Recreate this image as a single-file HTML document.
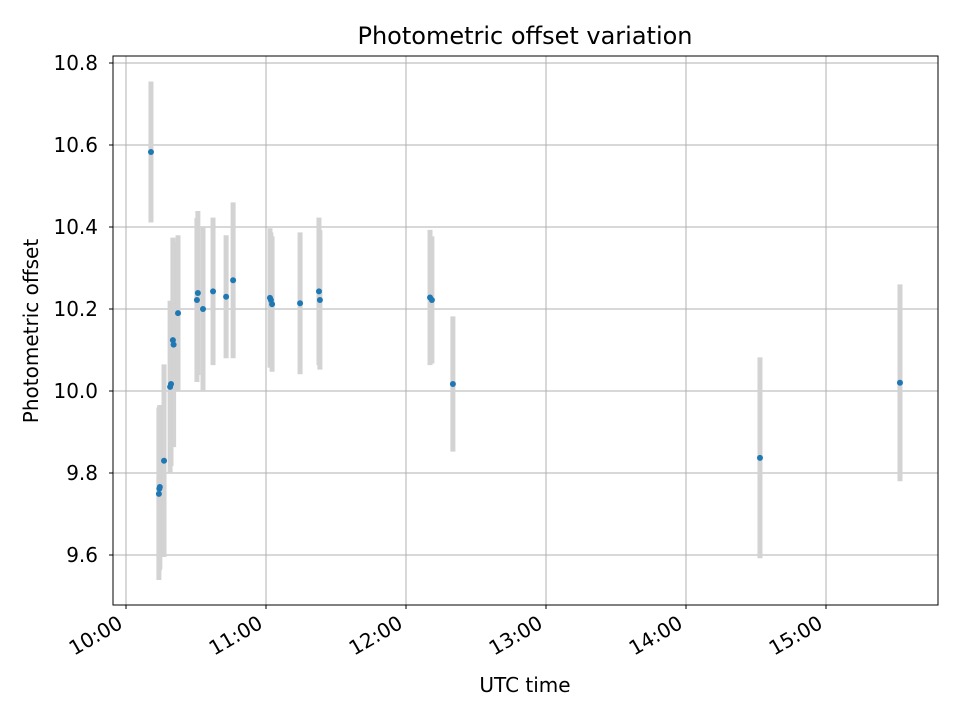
<!DOCTYPE html>
<html><head><meta charset="utf-8"><style>body{margin:0;background:#fff}svg{font-family:"DejaVu Sans","Liberation Sans",sans-serif}</style></head>
<body>
<svg id="c" width="960" height="720" viewBox="0 0 960 720"></svg>
<script>
const times=[10.7,14.1,14.3,14.5,16.3,18.9,19.3,20.1,20.4,22.3,30.4,30.8,33,37.3,42.9,45.9,61.7,62.1,62.6,74.6,82.7,83.1,130.3,131.1,140.1,271.7,331.7];
const values=[10.583,9.749,9.762,9.766,9.83,10.01,10.017,10.124,10.113,10.19,10.222,10.239,10.2,10.243,10.23,10.27,10.227,10.222,10.212,10.214,10.243,10.222,10.228,10.222,10.017,9.837,10.02];
const errors=[0.172,0.21,0.2,0.2,0.235,0.21,0.2,0.25,0.25,0.19,0.2,0.2,0.2,0.18,0.15,0.19,0.17,0.165,0.165,0.173,0.18,0.17,0.165,0.155,0.165,0.245,0.24];
const yTicks=[9.6,9.8,10.0,10.2,10.4,10.6,10.8];
const xTickMins=[0,60,120,180,240,300];
const xTickLabels=["10:00","11:00","12:00","13:00","14:00","15:00"];
const L=113,R=938,T=56,B=605;
const sx=m=>126+m*140/60;
const sy=v=>555-(v-9.6)*410;
const svg=document.getElementById('c');
const NS='http://www.w3.org/2000/svg';
function mk(t,a,txt){const e=document.createElementNS(NS,t);for(const k in a)e.setAttribute(k,a[k]);if(txt!==undefined)e.textContent=txt;svg.appendChild(e);return e;}
yTicks.forEach((v,i)=>{const y=sy(v);
 let g=mk('line',{x1:L,x2:R,y1:y,y2:y,stroke:'#b0b0b0','stroke-width':1});
 
 let t=mk('line',{x1:L-4,x2:L,y1:y,y2:y,stroke:'#000'});
 
 let l=mk('text',{x:L-15,y:y+7,'text-anchor':'end','font-size':20},v.toFixed(1));
 });
xTickMins.forEach((m,i)=>{const x=sx(m);
 let g=mk('line',{x1:x,x2:x,y1:T,y2:B,stroke:'#b0b0b0','stroke-width':1});
 
 let t=mk('line',{x1:x,x2:x,y1:B,y2:B+4,stroke:'#000'});
 
 let l=mk('text',{x:x-2,y:B+22,'text-anchor':'end','font-size':20,transform:`rotate(-30 ${x-2} ${B+22})`},xTickLabels[i]);
 });
times.forEach((m,i)=>{const x=sx(m);
 let e=mk('line',{x1:x,x2:x,y1:sy(values[i]+errors[i]),y2:sy(values[i]-errors[i]),stroke:'#d3d3d3','stroke-width':5});
 });
times.forEach((m,i)=>{
 let p=mk('circle',{cx:sx(m),cy:sy(values[i]),r:3,fill:'#1f77b4'});
 });
let f=mk('rect',{x:L,y:T,width:R-L,height:B-T,fill:'none',stroke:'#000','stroke-width':1});

let ti=mk('text',{x:525,y:44,'text-anchor':'middle','font-size':24},'Photometric offset variation');

let xl=mk('text',{x:525,y:692,'text-anchor':'middle','font-size':20},'UTC time');

let yl=mk('text',{x:38,y:331,'text-anchor':'middle','font-size':20,transform:'rotate(-90 38 331)'},'Photometric offset');

</script>
</body></html>
